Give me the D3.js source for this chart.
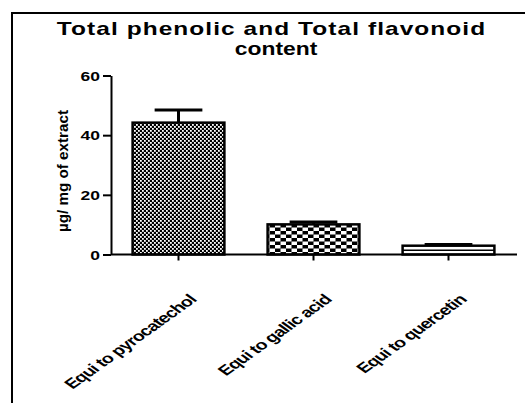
<!DOCTYPE html>
<html>
<head>
<meta charset="utf-8">
<script src="https://cdn.jsdelivr.net/npm/d3@7"></script>
<style>
  body { margin: 0; background: #fff; }
  svg { display: block; font-family: "Liberation Sans", Arial, sans-serif; }
</style>
</head>
<body>
<svg id="chart" width="525" height="403"></svg>
<script>
const categories = ["Equi to pyrocatechol", "Equi to gallic acid", "Equi to quercetin"];
const values = [44.2, 10.1, 2.95];
const errors = [4.2, 0.8, 0.4];
const yTicks = [0, 20, 40, 60];
const fills = ["url(#pFine)", "url(#pCheck)", "url(#pStripe)"];
const titleLines = ["Total phenolic  and Total flavonoid", "content"];
const yLabel = "\u00b5g/ mg of extract";

const svg = d3.select("#chart");
const SX = 1.4; // horizontal stretch of text in the reference

// patterns
const defs = svg.append("defs");
const p1 = defs.append("pattern").attr("id", "pFine").attr("patternUnits", "userSpaceOnUse")
  .attr("width", 4).attr("height", 4);
p1.append("rect").attr("width", 4).attr("height", 4).attr("fill", "#000");
p1.append("rect").attr("x", 0).attr("y", 0).attr("width", 1.8).attr("height", 1.8).attr("fill", "#fff");
p1.append("rect").attr("x", 2).attr("y", 2).attr("width", 1.8).attr("height", 1.8).attr("fill", "#fff");

const p2 = defs.append("pattern").attr("id", "pCheck").attr("patternUnits", "userSpaceOnUse")
  .attr("width", 11).attr("height", 7);
p2.append("rect").attr("width", 11).attr("height", 7).attr("fill", "#000");
p2.append("rect").attr("x", 0).attr("y", 0).attr("width", 5.5).attr("height", 3.5).attr("fill", "#fff");
p2.append("rect").attr("x", 5.5).attr("y", 3.5).attr("width", 5.5).attr("height", 3.5).attr("fill", "#fff");

const p3 = defs.append("pattern").attr("id", "pStripe").attr("patternUnits", "userSpaceOnUse")
  .attr("width", 8).attr("height", 8);
p3.append("rect").attr("width", 8).attr("height", 8).attr("fill", "#fff");
p3.append("rect").attr("x", 0).attr("y", 1.5).attr("width", 8).attr("height", 1.5).attr("fill", "#000");

// frame
svg.append("path").attr("d", "M12,403 V13 H525").attr("fill", "none")
  .attr("stroke", "#000").attr("stroke-width", 2);

// scales
const x = d3.scaleBand().domain(categories).range([111, 516]).paddingInner(0.32).paddingOuter(0.16);
const y = d3.scaleLinear().domain([0, 60]).range([254.5, 75.5]);

// title
svg.append("text").attr("text-anchor", "middle").attr("font-weight", "bold").attr("font-size", 17.5)
  .attr("transform", `translate(271,35) scale(${SX},1)`)
  .attr("textLength", 306).attr("lengthAdjust", "spacing")
  .text(titleLines[0]);
svg.append("text").attr("text-anchor", "middle").attr("font-weight", "bold").attr("font-size", 17.5)
  .attr("transform", `translate(276,54.5) scale(${SX},1)`)
  .attr("textLength", 59).attr("lengthAdjust", "spacingAndGlyphs")
  .text(titleLines[1]);

// y label
svg.append("text").attr("text-anchor", "middle").attr("font-weight", "bold").attr("font-size", 15)
  .attr("transform", "translate(68,171) rotate(-90)")
  .attr("textLength", 122).attr("lengthAdjust", "spacingAndGlyphs")
  .text(yLabel);

// bars
svg.append("g").selectAll("rect").data(categories).join("rect")
  .attr("x", d => x(d))
  .attr("y", (d, i) => y(values[i]))
  .attr("width", x.bandwidth())
  .attr("height", (d, i) => y(0) - y(values[i]))
  .attr("fill", (d, i) => fills[i])
  .attr("stroke", "#000").attr("stroke-width", 2.5);

// error bars (upper only)
const eb = svg.append("g").attr("stroke", "#000");
eb.selectAll("line.stem").data(categories).join("line").attr("class", "stem")
  .attr("x1", d => x(d) + x.bandwidth() / 2).attr("x2", d => x(d) + x.bandwidth() / 2)
  .attr("y1", (d, i) => y(values[i])).attr("y2", (d, i) => y(values[i] + errors[i]))
  .attr("stroke-width", 3);
eb.selectAll("line.cap").data(categories).join("line").attr("class", "cap")
  .attr("x1", d => x(d) + x.bandwidth() * 0.24).attr("x2", d => x(d) + x.bandwidth() * 0.76)
  .attr("y1", (d, i) => y(values[i] + errors[i])).attr("y2", (d, i) => y(values[i] + errors[i]))
  .attr("stroke-width", 3);

// axes
const yAxis = svg.append("g").attr("transform", "translate(111,0)")
  .call(d3.axisLeft(y).tickValues(yTicks).tickSize(8).tickSizeOuter(0));
yAxis.selectAll("path, line").attr("stroke", "#000").attr("stroke-width", 2);
yAxis.selectAll(".tick text").attr("x", null).attr("dy", "0.36em")
  .attr("transform", `translate(-11,0) scale(${SX},1)`)
  .attr("font-size", 12.5).attr("font-weight", "bold").attr("fill", "#000")
  .attr("font-family", "Liberation Sans, Arial, sans-serif");

const xAxis = svg.append("g").attr("transform", "translate(0,254.5)")
  .call(d3.axisBottom(x).tickSize(6).tickSizeOuter(0));
xAxis.select(".domain").attr("d", "M111,0H517");
xAxis.selectAll("path, line").attr("stroke", "#000").attr("stroke-width", 2);
xAxis.selectAll(".tick text").attr("y", null).attr("dy", null)
  .attr("text-anchor", "end")
  .attr("transform", `translate(19,46) scale(${SX},1) rotate(-45)`)
  .attr("font-size", 14).attr("font-weight", "bold").attr("fill", "#000")
  .attr("letter-spacing", -0.6)
  .attr("font-family", "Liberation Sans, Arial, sans-serif");
</script>
</body>
</html>
